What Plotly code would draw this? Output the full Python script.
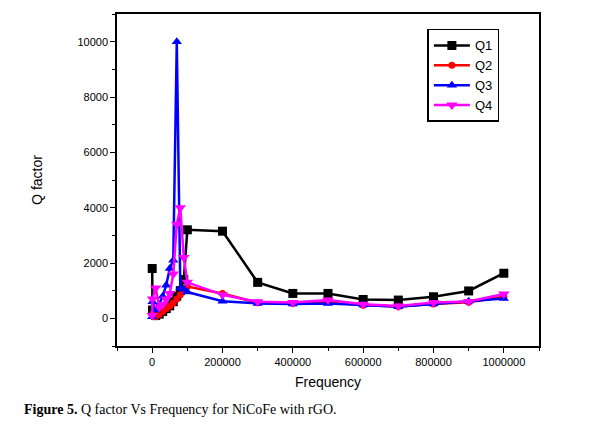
import plotly.graph_objects as go

freq = [100, 1000, 10000, 20000, 30000, 40000, 50000, 60000, 70000, 80000, 90000,
        100000, 200000, 300000, 400000, 500000, 600000, 700000, 800000, 900000, 1000000]

q1 = [1800, 300, 100, 150, 250, 350, 450, 600, 800, 1000, 1400,
      3200, 3150, 1300, 900, 900, 680, 660, 780, 990, 1630]
q2 = [80, 150, 60, 150, 250, 350, 450, 550, 700, 850, 1000,
      1150, 900, 560, 540, 600, 470, 430, 520, 580, 780]
q3 = [60, 600, 300, 500, 800, 1200, 1800, 2100, 10000, 1100, 1050,
      950, 620, 540, 520, 540, 480, 420, 520, 620, 720]
q4 = [100, 700, 1100, 400, 500, 700, 900, 1600, 3400, 4000, 2200,
      1300, 850, 600, 570, 660, 510, 450, 570, 610, 880]

series = [
    ("Q1", q1, "#000000", "square", 9),
    ("Q2", q2, "#ff0000", "circle", 7),
    ("Q3", q3, "#0000ff", "triangle-up", 9),
    ("Q4", q4, "#ff00ff", "triangle-down", 10),
]

x_ticks = [0, 200000, 400000, 600000, 800000, 1000000]
y_ticks = [0, 2000, 4000, 6000, 8000, 10000]

fig = go.Figure()
for name, vals, color, sym, size in series:
    fig.add_trace(go.Scatter(
        x=freq, y=vals, name=name, mode="lines+markers",
        line=dict(color=color, width=2.5),
        marker=dict(symbol=sym, size=size, color=color),
    ))

axis_font = dict(family="Liberation Sans, Arial", size=11, color="#000")
fig.update_layout(
    width=596, height=432,
    margin=dict(l=117, r=57, t=14, b=86),
    paper_bgcolor="white", plot_bgcolor="white",
    showlegend=True,
    legend=dict(
        x=0.7355, y=0.955, xanchor="left", yanchor="top",
        bordercolor="black", borderwidth=1.5, bgcolor="white",
        font=dict(family="Liberation Sans, Arial", size=13, color="#000"),
        tracegroupgap=0, itemwidth=36,
    ),
    xaxis=dict(
        range=[-100000, 1100000], tickvals=x_ticks,
        ticktext=[str(v) for v in x_ticks],
        showline=True, linecolor="black", linewidth=1.5, mirror=True,
        ticks="outside", ticklen=5, tickwidth=1, tickcolor="black",
        minor=dict(ticks="outside", ticklen=3, dtick=100000, tick0=0, tickcolor="black"),
        showgrid=False, zeroline=False, tickfont=axis_font,
        title=dict(text="Frequency", font=dict(family="Liberation Sans, Arial", size=14, color="#000"), standoff=10),
    ),
    yaxis=dict(
        range=[-1000, 11000], tickvals=y_ticks,
        ticktext=[str(v) for v in y_ticks],
        showline=True, linecolor="black", linewidth=1.5, mirror=True,
        ticks="outside", ticklen=5, tickwidth=1, tickcolor="black",
        minor=dict(ticks="outside", ticklen=3, dtick=1000, tick0=0, tickcolor="black"),
        showgrid=False, zeroline=False, tickfont=axis_font,
        title=dict(text="Q factor", font=dict(family="Liberation Sans, Arial", size=14, color="#000"), standoff=32),
    ),
)

fig.add_annotation(
    xref="paper", yref="paper", x=-0.225, y=-0.19, xanchor="left", yanchor="middle",
    text="<b>Figure 5.</b> Q factor Vs Frequency for NiCoFe with rGO.",
    showarrow=False,
    font=dict(family="Liberation Serif, Times New Roman", size=14, color="#000"),
)

fig.write_html("out.html")
